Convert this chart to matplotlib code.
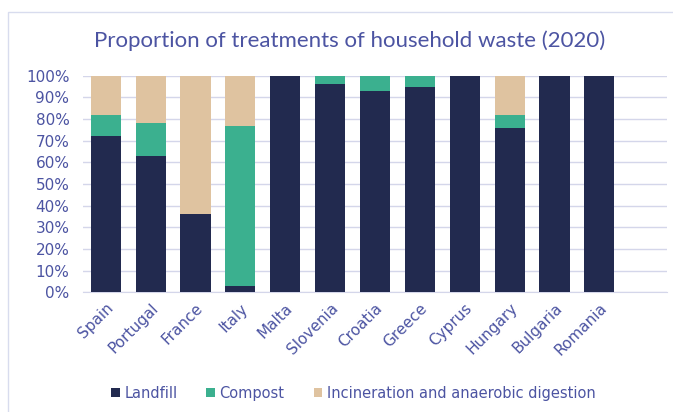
import numpy as np
import matplotlib.pyplot as plt
from matplotlib.patches import Rectangle
from matplotlib.ticker import PercentFormatter

countries = ["Spain", "Portugal", "France", "Italy", "Malta", "Slovenia",
             "Croatia", "Greece", "Cyprus", "Hungary", "Bulgaria", "Romania"]
landfill = [72, 63, 36, 3, 100, 96, 93, 95, 100, 76, 100, 100]
compost = [10, 15, 0, 74, 0, 4, 7, 5, 0, 6, 0, 0]
incineration = [18, 22, 64, 23, 0, 0, 0, 0, 0, 18, 0, 0]

series_names = ["Landfill", "Compost", "Incineration and anaerobic digestion"]
colors = ["#222a4f", "#3bb08f", "#dfc3a0"]
text_color = "#4c54a2"
grid_color = "#d4d6ea"

plt.rcParams['font.family'] = ['DejaVu Sans']

fig = plt.figure(figsize=(6.73, 4.12), dpi=100)
fig.patches.append(Rectangle((0.012, -0.02), 1.0, 0.99, transform=fig.transFigure,
                             fill=False, edgecolor="#d8dcee", linewidth=1.0))

ax = fig.add_axes([0.1238, 0.2905, 0.8668, 0.5258])
x = np.arange(len(countries))
bottom = np.zeros(len(countries))
for name, vals, c in zip(series_names, [landfill, compost, incineration], colors):
    ax.bar(x, vals, 0.67, bottom=bottom, color=c, label=name, zorder=3)
    bottom += np.array(vals)

ax.set_xlim(-0.5, len(countries) + 0.5)
ax.set_ylim(0, 100)
ax.set_yticks(np.arange(0, 101, 10))
ax.yaxis.set_major_formatter(PercentFormatter(decimals=0))
ax.grid(axis='y', color=grid_color, linewidth=1.0, zorder=0)
for s in ["top", "right", "left"]:
    ax.spines[s].set_visible(False)
ax.spines["bottom"].set_color(grid_color)
ax.tick_params(axis='both', length=0, colors=text_color, labelsize=11)
ax.tick_params(axis='y', pad=10)
ax.tick_params(axis='x', pad=6)
ax.set_xticks(x)
ax.set_xticklabels(countries, rotation=45, ha='right', rotation_mode='anchor')

fig.text(0.52, 1 - 47.3 / 412, "Proportion of treatments of household waste (2020)",
         ha='center', va='baseline', fontsize=16, color=text_color,
         family=['Lato', 'DejaVu Sans'])

fig.legend(loc='center', bbox_to_anchor=(0.525, 0.045), ncol=3, frameon=False,
           fontsize=10.5, handlelength=0.6, handleheight=0.6, handletextpad=0.3,
           columnspacing=2.0, labelcolor=text_color)

fig.savefig("out.png", dpi=100)
